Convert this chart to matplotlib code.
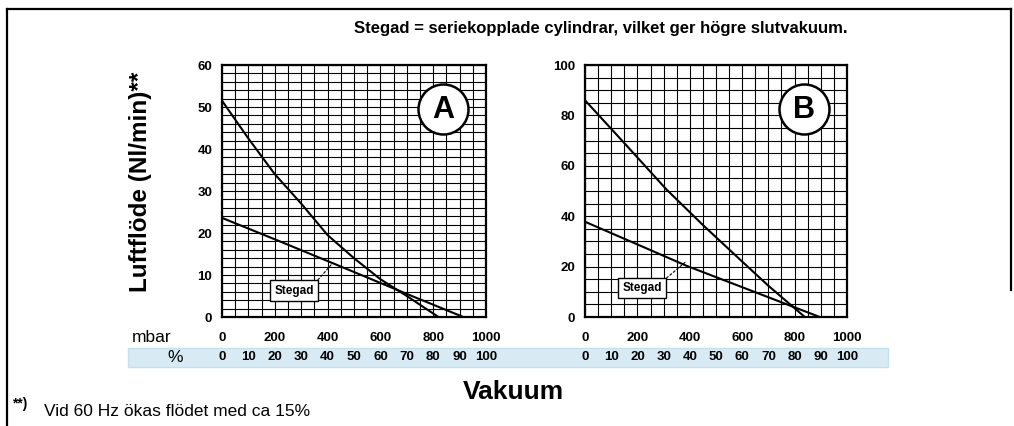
import matplotlib
matplotlib.use("Agg")
import matplotlib.pyplot as plt
from matplotlib.lines import Line2D
from matplotlib.patches import Rectangle
import numpy as np

# Data (mbar -> Nl/min)
mbar_ticks = [0, 200, 400, 600, 800, 1000]
pct_ticks = [0, 10, 20, 30, 40, 50, 60, 70, 80, 90, 100]

a_single_x = [0, 100, 200, 300, 400, 500, 600, 700, 820]
a_single_y = [51.5, 42.5, 34, 27, 19.5, 14, 9, 5, 0]
a_stegad_x = [0, 200, 420, 700, 914]
a_stegad_y = [23.6, 18.5, 12.8, 5.5, 0]

b_single_x = [0, 159, 311, 450, 604, 700, 839]
b_single_y = [86, 68, 50.6, 36.5, 21.6, 12.4, 0]
b_stegad_x = [0, 200, 388, 896]
b_stegad_y = [37.8, 28.8, 20.3, 0]

W, H = 1014, 426
fig = plt.figure(figsize=(W / 100, H / 100), dpi=100)

SANS = ["Liberation Sans", "DejaVu Sans"]


def fx(px):
    return px / W


def fy(py):
    return 1 - py / H


def draw_panel(left, right, ymax, ystep, ygrid, single, stegad, letter, arrow_xy, box_xy):
    top, bottom = 65, 317
    ax = fig.add_axes([fx(left), fy(bottom), fx(right - left), (bottom - top) / H])
    ax.set_xlim(0, 1000)
    ax.set_ylim(0, ymax)
    ax.set_xticks(mbar_ticks)
    ax.set_xticks(np.arange(0, 1001, 50), minor=True)
    ax.set_yticks(np.arange(0, ymax + 1, ystep))
    ax.set_yticks(np.arange(0, ymax + 0.01, ygrid), minor=True)
    ax.grid(which="both", color="black", lw=0.8, zorder=1)
    ax.tick_params(which="both", length=0)
    ax.tick_params(axis="x", pad=11)
    ax.tick_params(axis="y", pad=7)
    for lab in ax.get_xticklabels() + ax.get_yticklabels():
        lab.set_family(SANS)
        lab.set_weight("bold")
        lab.set_fontsize(9.5)
    for s in ax.spines.values():
        s.set_linewidth(1.6)
    ax.set_axisbelow(True)

    ax.plot(single[0], single[1], color="black", lw=1.5, zorder=3)
    ax.plot(stegad[0], stegad[1], color="black", lw=1.5, zorder=3)

    ax.annotate("Stegad", xy=arrow_xy, xytext=box_xy, ha="center", va="center",
                fontsize=8.5, fontweight="bold", family=SANS, zorder=5,
                bbox=dict(boxstyle="square,pad=0.35", fc="white", ec="black", lw=1),
                arrowprops=dict(arrowstyle="-", ls=(0, (2, 2)), color="black", lw=0.8,
                                shrinkA=0, shrinkB=0, relpos=(1, 1)))

    ax.plot([0.837], [0.825], marker="o", ms=36, mfc="white", mec="black", mew=1.8,
            transform=ax.transAxes, zorder=6, clip_on=False)
    ax.text(0.837, 0.822, letter, transform=ax.transAxes, ha="center", va="center",
            fontsize=22, fontweight="bold", family=SANS, zorder=7)

    for p in pct_ticks:
        ax.text(p * 10, -0.158, str(p), transform=ax.get_xaxis_transform(),
                ha="center", va="center", fontsize=9.5, fontweight="bold", family=SANS)
    return ax


# blue band for the % row, kept behind the axes
fig.patches.append(Rectangle((fx(128), fy(367)), fx(888 - 128), (367 - 348) / H,
                             transform=fig.transFigure, fc="#d8ebf5", ec="#c4e0ef",
                             lw=1, zorder=-1))

draw_panel(222, 486, 60, 10, 2, (a_single_x, a_single_y), (a_stegad_x, a_stegad_y),
           "A", (420, 12.9), (273, 6.3))
draw_panel(585, 847, 100, 20, 5, (b_single_x, b_single_y), (b_stegad_x, b_stegad_y),
           "B", (382, 21.7), (218, 11.5))

# outer frame
frame_kw = dict(color="black", lw=1.6, transform=fig.transFigure)
fig.add_artist(Line2D([fx(7), fx(7)], [fy(9), 0], **frame_kw))
fig.add_artist(Line2D([fx(7), fx(1011)], [fy(9), fy(9)], **frame_kw))
fig.add_artist(Line2D([fx(1011), fx(1011)], [fy(9), fy(290)], **frame_kw))

fig.text(fx(601), fy(28), "Stegad = seriekopplade cylindrar, vilket ger högre slutvakuum.",
         ha="center", va="center", fontsize=12, fontweight="bold", family=SANS)
fig.text(fx(140), fy(182), "Luftflöde (Nl/min)**", rotation=90, ha="center", va="center",
         fontsize=17.5, fontweight="bold", family=SANS)
fig.text(fx(152), fy(338), "mbar", ha="center", va="center", fontsize=12.5, family=SANS)
fig.text(fx(175), fy(357), "%", ha="center", va="center", fontsize=12.5, family=SANS)
fig.text(fx(513), fy(392), "Vakuum", ha="center", va="center", fontsize=19,
         fontweight="bold", family=SANS)
fig.text(fx(12), fy(404), "**)", ha="left", va="center", fontsize=10, fontweight="bold",
         family=SANS)
fig.text(fx(44), fy(411), "Vid 60 Hz ökas flödet med ca 15%", ha="left", va="center",
         fontsize=12.5, family=SANS)

fig.savefig("out.png", dpi=100)
